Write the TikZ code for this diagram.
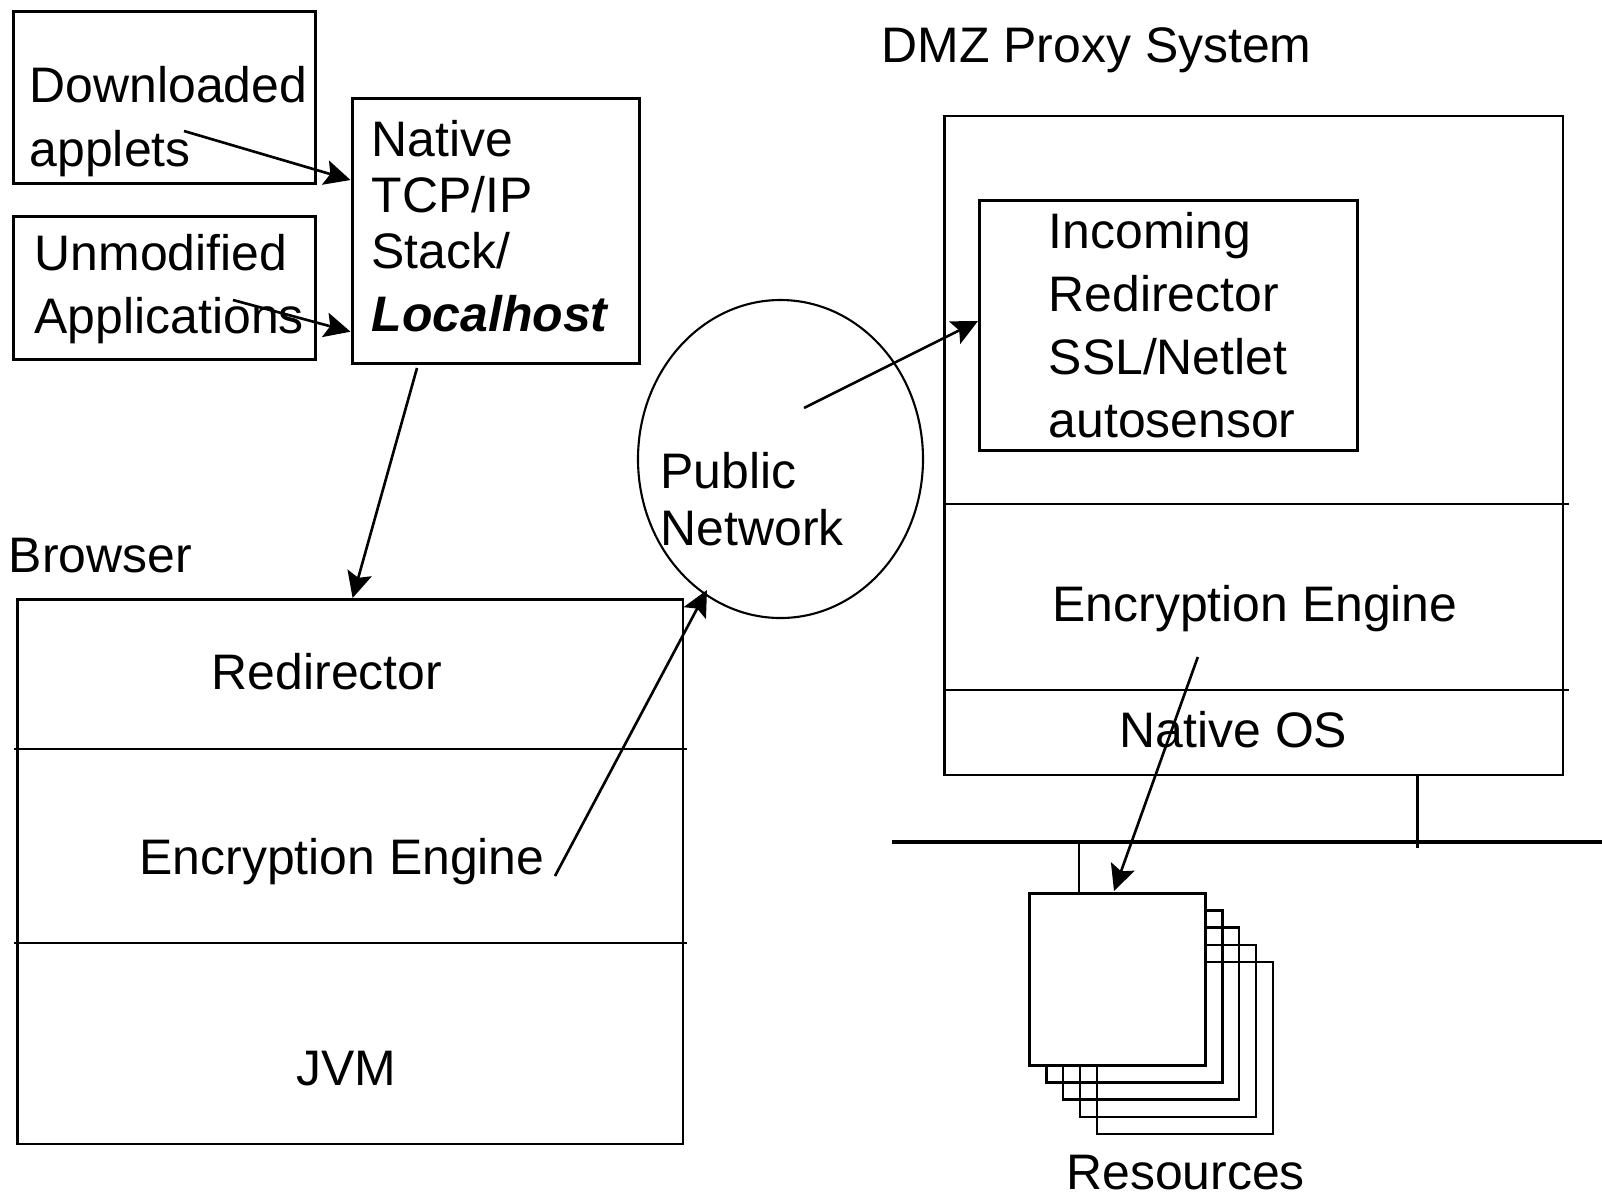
\documentclass[tikz,border=0pt]{standalone}
\usepackage{fontspec}
\setmainfont{Liberation Sans}
\usetikzlibrary{arrows.meta,shapes.geometric}

\tikzset{
    box/.style={draw, line width=0.75pt, inner sep=0pt, anchor=north west},
    lbl/.style={inner sep=0pt, font=\fontsize{14.2pt}{17.9pt}\selectfont},
    arr/.style={-{Stealth[length=2.6mm,width=2.5mm,inset=0.5mm]}, line width=0.75pt},
}

\begin{document}
\begin{tikzpicture}[x=1cm,y=-1cm]
        \useasboundingbox (0,0) rectangle (16.02,12.00);

        % Client side boxes
        \node[box, minimum width=3.02cm, minimum height=1.72cm] (applets) at (0.12,0.10) {};
        \node[box, minimum width=3.02cm, minimum height=1.43cm] (apps) at (0.12,2.15) {};
        \node[box, minimum width=2.87cm, minimum height=2.65cm] (stack) at (3.51,0.97) {};
        \node[lbl, anchor=base west, align=left, font=\fontsize{14.2pt}{18.2pt}\selectfont] (appletstxt) at (0.29,1.667) {Downloaded\\applets};
        \node[lbl, anchor=base west, align=left] (appstxt) at (0.34,3.33) {Unmodified\\Applications};
        \node[lbl, anchor=base west, align=left, font=\fontsize{14.2pt}{15.9pt}\selectfont] (stacktxt) at (3.71,3.317) {Native\\TCP/IP\\Stack/\\[2.1pt]\textbf{\textit{Localhost}}};

        % Browser
        \node[lbl, anchor=base west] (browsertxt) at (0.082,5.72) {Browser};
        \node[box, minimum width=6.653cm, minimum height=5.446cm] (browser) at (0.164,5.98) {};
        \draw[line width=0.75pt] (0.143,7.49) -- (6.868,7.49);
        \draw[line width=0.75pt] (0.143,9.43) -- (6.868,9.43);
        \node[lbl, anchor=base] (redirtxt) at (3.27,6.89) {Redirector};
        \node[lbl, anchor=base] (enctxt) at (3.42,8.743) {Encryption Engine};
        \node[lbl, anchor=base] (jvmtxt) at (3.465,10.855) {JVM};

        % Public network
        \node[draw, ellipse, line width=0.6pt, inner sep=0pt, minimum width=2.85cm, minimum height=3.18cm] (net) at (7.805,4.59) {};
        \node[lbl, anchor=base west, align=left, font=\fontsize{14.2pt}{16.2pt}\selectfont] (nettxt) at (6.60,5.45) {Public\\Network};

        % DMZ proxy
        \node[lbl, anchor=base west] (dmztxt) at (8.81,0.627) {DMZ Proxy System};
        \node[box, minimum width=6.183cm, minimum height=6.592cm] (dmz) at (9.433,1.145) {};
        \draw[line width=0.75pt] (9.433,5.04) -- (15.688,5.04);
        \draw[line width=0.75pt] (9.433,6.90) -- (15.688,6.90);
        \node[box, minimum width=3.78cm, minimum height=2.50cm] (incoming) at (9.78,1.99) {};
        \node[lbl, anchor=base west, align=left] (incomingtxt) at (10.48,4.373) {Incoming\\Redirector\\SSL/Netlet\\autosensor};
        \node[lbl, anchor=base] (dmzenctxt) at (12.55,6.215) {Encryption Engine};
        \node[lbl, anchor=base] (ostxt) at (12.335,7.47) {Native OS};

        % LAN and resources
        \draw[line width=1pt] (8.92,8.42) -- (16.02,8.42);
        \draw[line width=0.75pt] (14.175,7.737) -- (14.175,8.48);
        \draw[line width=0.75pt] (10.79,8.42) -- (10.79,8.92);
        \foreach \k in {4,3,2,1}
            \node[box, minimum width=1.76cm, minimum height=1.72cm] (res\k) at (10.28+0.169*\k,8.92+0.172*\k) {};
        \node[box, fill=white, minimum width=1.76cm, minimum height=1.72cm] (res) at (10.28,8.92) {};
        \node[lbl, anchor=base] (restxt) at (11.856,11.89) {Resources};

        % Arrows
        \coordinate (a1) at (1.84,1.31);
        \coordinate (b1) at (3.505,1.80);
        \coordinate (a2) at (2.33,3.00);
        \coordinate (b2) at (3.505,3.317);
        \coordinate (a3) at (4.17,3.68);
        \coordinate (b3) at (3.526,5.98);
        \coordinate (a4) at (5.55,8.76);
        \coordinate (b4) at (7.07,5.90);
        \coordinate (a5) at (8.04,4.08);
        \coordinate (b5) at (9.78,3.21);
        \coordinate (a6) at (11.978,6.57);
        \coordinate (b6) at (11.14,8.91);
        \foreach \i in {1,...,6}
            \draw[arr] (a\i) -- (b\i);
    \end{tikzpicture}
\end{document}
